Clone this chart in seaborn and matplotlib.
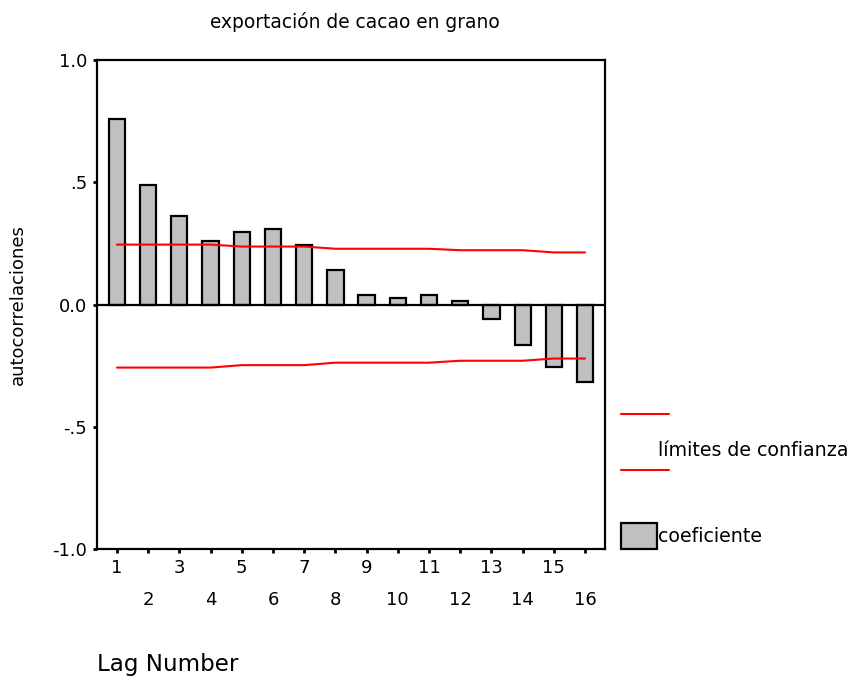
import numpy as np
import pandas as pd
import matplotlib
matplotlib.use("Agg")
import matplotlib.pyplot as plt
from matplotlib.lines import Line2D
from matplotlib.patches import Rectangle
import seaborn as sns

# autocorrelation values
lags = list(range(1, 17))
acf = [0.758, 0.49, 0.36, 0.26, 0.295, 0.31, 0.245, 0.14,
       0.04, 0.025, 0.04, 0.015, -0.06, -0.165, -0.255, -0.315]
upper = [0.245, 0.245, 0.245, 0.245, 0.237, 0.237, 0.237, 0.228,
         0.228, 0.228, 0.228, 0.222, 0.222, 0.222, 0.213, 0.213]
lower = [-0.258, -0.258, -0.258, -0.258, -0.248, -0.248, -0.248, -0.238,
         -0.238, -0.238, -0.238, -0.230, -0.230, -0.230, -0.221, -0.221]
yticks = [1.0, 0.5, 0.0, -0.5, -1.0]
ytick_labels = ["1.0", ".5", "0.0", "-.5", "-1.0"]

df = pd.DataFrame({"lag": lags, "acf": acf, "upper": upper, "lower": lower})

sns.set_style("white")
plt.rcParams['font.family'] = ['DejaVu Sans']
plt.rcParams['text.color'] = 'black'

W, H = 851, 679
fig = plt.figure(figsize=(W / 100, H / 100), dpi=100)
ax = fig.add_axes([97 / W, 1 - 549 / H, (605 - 97) / W, (549 - 60) / H])

sns.barplot(data=df, x="lag", y="acf", native_scale=True, width=0.52,
            color="#c0c0c0", saturation=1, edgecolor="black", linewidth=1.6, ax=ax)
sns.lineplot(data=df, x="lag", y="upper", color="red", linewidth=1.5, ax=ax)
sns.lineplot(data=df, x="lag", y="lower", color="red", linewidth=1.5, ax=ax)
ax.axhline(0, color="black", linewidth=1.6, zorder=3)

ax.set_xlim(0.36, 16.64)
ax.set_ylim(-1.0, 1.0)
ax.set_xticks(lags)
ax.set_xticklabels([str(l) for l in lags])
ax.set_yticks(yticks)
ax.set_yticklabels(ytick_labels)
ax.set_xlabel("")
ax.set_ylabel("")
ax.tick_params(axis="both", direction="out", length=3, width=2, color="black",
               labelsize=13, labelcolor="black", bottom=True, left=True)
for t in ax.xaxis.get_major_ticks():
    t.set_pad(4 if int(t.get_loc()) % 2 else 27)
ax.tick_params(axis="y", pad=4)
for s in ax.spines.values():
    s.set_visible(True)
    s.set_color("black")
    s.set_linewidth(1.6)

fig.text(355 / W, 1 - 22 / H, "exportación de cacao en grano", ha="center",
         va="center", fontsize=13.4)
fig.text(18 / W, 1 - 305 / H, "autocorrelaciones", rotation=90, ha="center",
         va="center", fontsize=13)
fig.text(97 / W, 1 - 665 / H, "Lag Number", ha="left", va="center", fontsize=16.6)

# legend outside on the right
fig.add_artist(Line2D([621 / W, 669 / W], [1 - 414 / H, 1 - 414 / H], color="red", linewidth=1.5))
fig.add_artist(Line2D([621 / W, 669 / W], [1 - 470 / H, 1 - 470 / H], color="red", linewidth=1.5))
fig.text(658 / W, 1 - 450 / H, "límites de confianza", ha="left", va="center", fontsize=13.7)
fig.add_artist(Rectangle((621 / W, 1 - 549 / H), 36 / W, 26 / H, facecolor="#c0c0c0",
                         edgecolor="black", linewidth=1.6, transform=fig.transFigure))
fig.text(658 / W, 1 - 537 / H, "coeficiente", ha="left", va="center", fontsize=13.7)

fig.savefig("out.png", dpi=100)
